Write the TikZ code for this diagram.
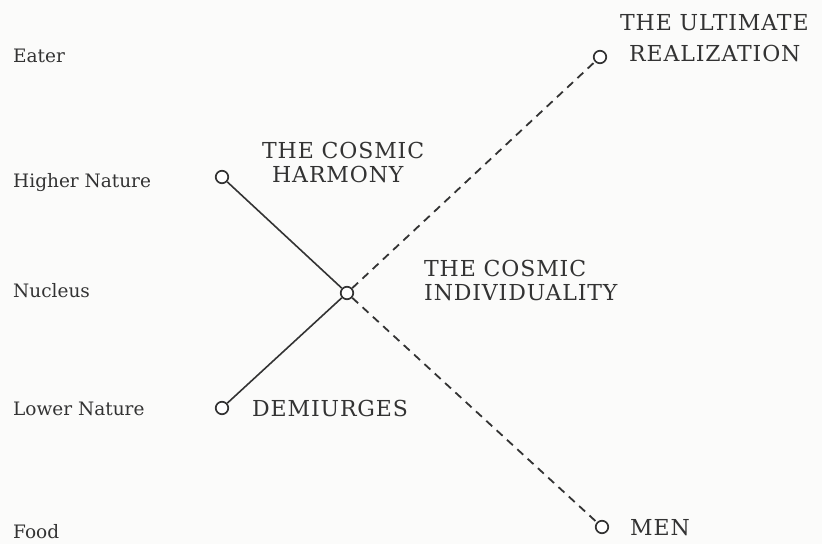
\documentclass[tikz,border=0pt]{standalone}
\usepackage{fontspec}
\setmainfont{DejaVu Serif}
\usetikzlibrary{positioning}
\definecolor{ink}{HTML}{333333}
\definecolor{paper}{HTML}{FBFBFA}
\tikzset{
  x=1pt, y=-1pt,
  hub/.style={circle, draw=ink, fill=white, line width=1.7pt, inner sep=0pt, minimum size=12.5pt},
  level/.style={anchor=base west, text=ink, inner sep=0pt, font=\fontsize{18.5}{22}\selectfont},
  caption/.style={anchor=base west, text=ink, inner sep=0pt,
    font=\fontsize{22}{25}\selectfont\addfontfeature{LetterSpace=4}},
  solidlink/.style={draw=ink, line width=1.6pt},
  dashlink/.style={draw=ink, line width=1.8pt, dash pattern=on 8pt off 6pt}
}
\begin{document}
\begin{tikzpicture}
\fill[paper] (0,0) rectangle (822,544);
\useasboundingbox (0,0) rectangle (822,544);

% levels on the left
\node[level] (eater) at (13,62) {Eater};
\node[level] (higher) at (13,187) {Higher Nature};
\node[level] (nucleus) at (13,297) {Nucleus};
\node[level] (lower) at (13,415) {Lower Nature};
\node[level] (food) at (13,538) {Food};

% the circles
\node[hub] (harmony) at (222,177) {};
\node[hub] (demi) at (222,408) {};
\node[hub] (indiv) at (347,293) {};
\node[hub] (ultimate) at (600,57) {};
\node[hub] (men) at (602,527) {};

\draw[solidlink] (harmony) -- (indiv);
\draw[solidlink] (demi) -- (indiv);
\draw[dashlink] (indiv) -- (ultimate);
\draw[dashlink] (indiv) -- (men);

% captions
\node[caption] (harmonya) at (262,158) {THE COSMIC};
\node[caption] (harmonyb) at (272,182) {HARMONY};
\node[caption] (indiva) at (424,276) {THE COSMIC};
\node[caption] (indivb) at (424,300) {INDIVIDUALITY};
\node[caption] (demitext) at (252,416) {DEMIURGES};
\node[caption] (ulta) at (620,30) {THE ULTIMATE};
\node[caption] (ultb) at (629,61) {REALIZATION};
\node[caption] (mentext) at (630,535) {MEN};
\end{tikzpicture}
\end{document}
